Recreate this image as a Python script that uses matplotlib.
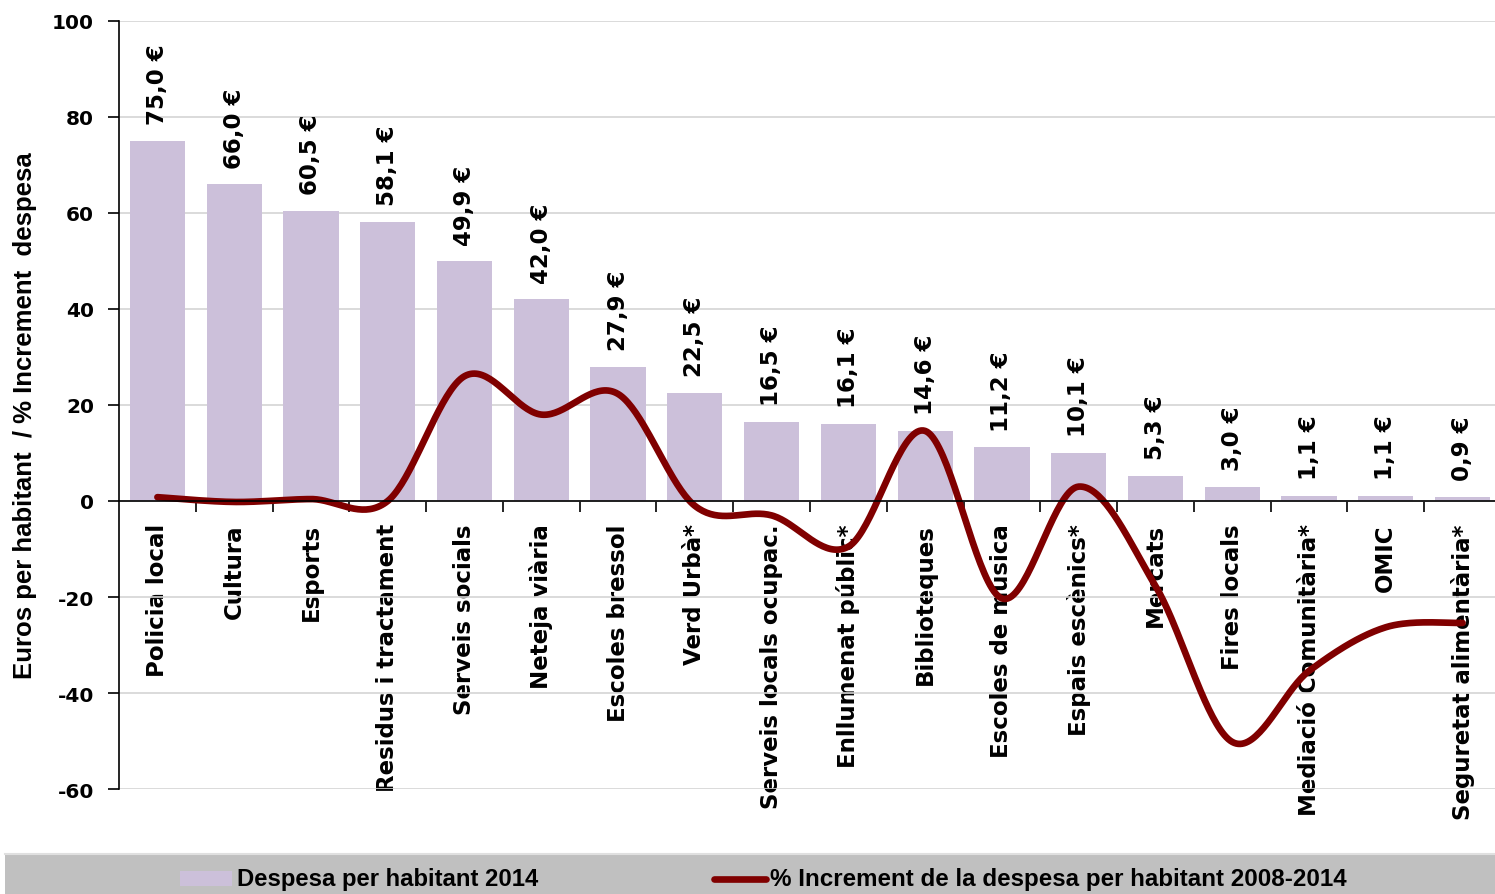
import numpy as np
import matplotlib
matplotlib.use("Agg")
import matplotlib.pyplot as plt
from matplotlib.patches import Rectangle
from matplotlib.lines import Line2D

# Spending per inhabitant 2014 (euros) and % change 2008-2014, by municipal service
categories = [
    "Policia local", "Cultura", "Esports", "Residus i tractament",
    "Serveis socials", "Neteja viària", "Escoles bressol", "Verd Urbà*",
    "Serveis locals ocupac.", "Enllumenat públic*", "Biblioteques",
    "Escoles de música", "Espais escènics*", "Mercats", "Fires locals",
    "Mediació Comunitària*", "OMIC", "Seguretat alimentària*",
]
spend_2014 = [75.0, 66.0, 60.5, 58.1, 49.9, 42.0, 27.9, 22.5, 16.5, 16.1,
              14.6, 11.2, 10.1, 5.3, 3.0, 1.1, 1.1, 0.9]
pct_change = [0.8, -0.2, 0.4, 0.0, 26.0, 18.0, 22.3, -1.0, -3.0, -9.5,
              14.6, -20.3, 3.0, -17.7, -50.2, -35.4, -26.3, -25.4]
y_ticks = [-60, -40, -20, 0, 20, 40, 60, 80, 100]

bar_color = "#CCC0DA"
line_color = "#800000"
lbl_family = ["DejaVu Sans"]
text_family = ["Liberation Sans", "DejaVu Sans"]

W, H = 1495, 895
fig = plt.figure(figsize=(W / 100, H / 100), dpi=100)
ax = fig.add_axes([119 / W, 105 / H, 1382 / W, 768 / H])

x = np.arange(len(categories))
ax.bar(x, spend_2014, width=0.72, color=bar_color, zorder=2)

# value labels above bars
for xi, v in zip(x, spend_2014):
    ax.annotate(f"{v:.1f} €".replace(".", ","), (xi, v), xytext=(0, 12),
                textcoords="offset points", rotation=90, ha="center",
                va="bottom", fontsize=16.5, fontweight="bold",
                family=lbl_family, zorder=4)


# smoothed line (cubic Bezier through each point, Catmull-Rom style tangents)
def smooth(xs, ys, n=40):
    xs = np.asarray(xs, float)
    ys = np.asarray(ys, float)
    px = np.concatenate([[xs[0]], xs, [xs[-1]]])
    py = np.concatenate([[ys[0]], ys, [ys[-1]]])
    outx, outy = [], []
    t = np.linspace(0, 1, n)
    for i in range(1, len(px) - 2):
        p0 = np.array([px[i], py[i]])
        p3 = np.array([px[i + 1], py[i + 1]])
        p1 = p0 + (np.array([px[i + 1], py[i + 1]]) - np.array([px[i - 1], py[i - 1]])) / 6
        p2 = p3 - (np.array([px[i + 2], py[i + 2]]) - np.array([px[i], py[i]])) / 6
        b = ((1 - t) ** 3)[:, None] * p0 + (3 * (1 - t) ** 2 * t)[:, None] * p1 \
            + (3 * (1 - t) * t ** 2)[:, None] * p2 + (t ** 3)[:, None] * p3
        outx.extend(b[:, 0])
        outy.extend(b[:, 1])
    return np.array(outx), np.array(outy)


sx, sy = smooth(x, pct_change)
ax.plot(sx, sy, color=line_color, lw=4.8, solid_capstyle="round", zorder=3)

ax.set_xlim(-0.5, len(categories) - 0.5)
ax.set_ylim(-60, 100)
ax.set_yticks(y_ticks)
ax.set_yticklabels([str(t) for t in y_ticks], fontsize=14.5, fontweight="bold",
                   family=lbl_family)
ax.yaxis.grid(True, color="#D4D4D4", lw=1.2, zorder=0)
ax.set_axisbelow(True)

ax.spines["top"].set_visible(False)
ax.spines["right"].set_visible(False)
ax.spines["bottom"].set_position(("data", 0))
ax.spines["bottom"].set_zorder(5)
ax.spines["left"].set_linewidth(1.2)
ax.spines["bottom"].set_linewidth(1.2)

ax.set_xticks(x)
ax.set_xticklabels(categories, rotation=90, ha="center", va="top",
                   fontsize=16.5, fontweight="bold", family=lbl_family)
ax.set_xticks(np.arange(0.5, len(categories) - 0.5, 1), minor=True)
ax.tick_params(axis="x", which="major", length=0, pad=16)
ax.tick_params(axis="x", which="minor", length=8, width=1.2, direction="out")
ax.tick_params(axis="y", length=8, width=1.2, direction="out", pad=10)

ax.set_ylabel("Euros per habitant  / % Increment  despesa", fontsize=18.5,
              fontweight="bold", family=text_family)
ax.yaxis.set_label_coords(-0.0595, 0.488)

# legend band along the bottom
fig.patches.append(Rectangle((5 / W, 0), 1 - 5 / W, 40 / H,
                             transform=fig.transFigure, facecolor="#C0C0C0",
                             edgecolor="none", zorder=0))
fig.lines.append(Line2D([5 / W, 1], [40 / H, 40 / H], transform=fig.transFigure,
                        color="#E0E0E0", lw=1.5))
fig.patches.append(Rectangle((180 / W, 8 / H), 52 / W, 15 / H,
                             transform=fig.transFigure, facecolor=bar_color,
                             edgecolor="none"))
fig.lines.append(Line2D([714 / W, 766 / W], [15 / H, 15 / H],
                        transform=fig.transFigure, color=line_color, lw=4.8,
                        solid_capstyle="round"))
fig.text(237 / W, 15 / H, "Despesa per habitant 2014", fontsize=17.2,
         fontweight="bold", family=text_family, va="center", ha="left")
fig.text(770 / W, 15 / H, "% Increment de la despesa per habitant 2008-2014",
         fontsize=17.4, fontweight="bold", family=text_family, va="center",
         ha="left")

fig.savefig("out.png", dpi=100)
